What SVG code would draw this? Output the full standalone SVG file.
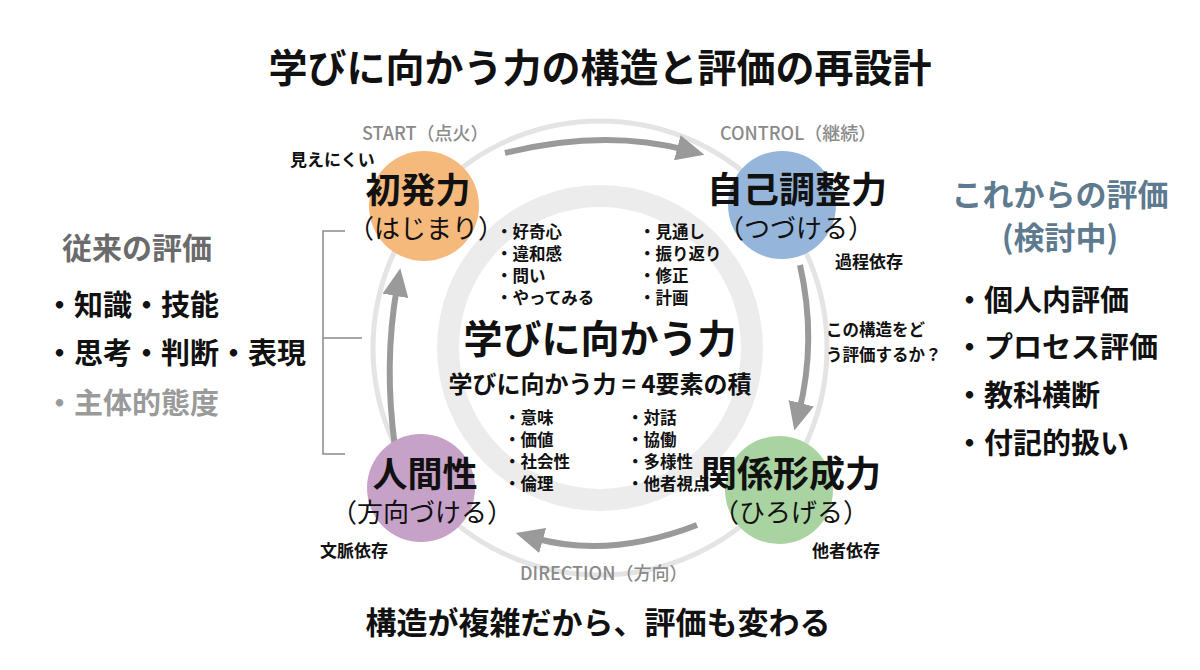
<svg xmlns="http://www.w3.org/2000/svg" width="1200" height="670" viewBox="0 0 1200 670">
<defs>
<style>
text{font-family:"Noto Sans CJK JP","Noto Sans CJK SC",sans-serif;fill:#111}
.title{font-size:39px;font-weight:700}
.big{font-size:35px;font-weight:700}
.big5{font-size:36px;font-weight:700}
.sub{font-size:26px;font-weight:400}
.sm{font-size:17px;font-weight:700}
.phase{font-size:18px;font-weight:500;fill:#8a8a8a}
.bul{font-size:16.5px;font-weight:700}
.side{font-size:29px;font-weight:700}
.arrow{fill:none;stroke:#9a9a9a;stroke-width:6;marker-end:url(#ah)}
</style>
<marker id="ah" markerUnits="userSpaceOnUse" markerWidth="28" markerHeight="26" refX="9" refY="13" orient="auto">
<path d="M0,0 L28,13 L0,26 z" fill="#9a9a9a"/>
</marker>
</defs>
<rect width="1200" height="670" fill="#ffffff"/>
<text class="title" x="600" y="82" text-anchor="middle">学びに向かう力の構造と評価の再設計</text>
<g id="rings">
<circle cx="600" cy="348" r="227" fill="none" stroke="#e4e4e4" stroke-width="5"/>
<circle cx="600" cy="348" r="152" fill="none" stroke="#ececec" stroke-width="22"/>
</g>
<g id="connectors">
<path class="arrow" d="M505,153 Q603.5,128.5 686,150"/>
<path class="arrow" d="M800,265 Q817,340.5 799,412"/>
<path class="arrow" d="M697,525 Q609.5,559 534,538"/>
<path class="arrow" d="M395,447 Q383.5,364 397,287"/>
</g>
<g id="node-shohatsu">
<circle cx="424" cy="206" r="55" fill="#f5b97c"/>
<text class="big" x="418" y="203" text-anchor="middle">初発力</text>
<text class="sub" x="426" y="238" text-anchor="middle">（はじまり）</text>
<text class="phase" x="362" y="140">START（点火）</text>
<text class="sm" x="290" y="166">見えにくい</text>
</g>
<g id="node-jiko">
<circle cx="782" cy="205" r="54" fill="#95b6da"/>
<text class="big5" x="797" y="203" text-anchor="middle">自己調整力</text>
<text class="sub" x="796" y="238" text-anchor="middle">（つづける）</text>
<text class="phase" x="720" y="140">CONTROL（継続）</text>
<text class="sm" x="835" y="268">過程依存</text>
</g>
<g id="node-ningen">
<circle cx="421" cy="488" r="54" fill="#c6a2c9"/>
<text class="big" x="425" y="487" text-anchor="middle">人間性</text>
<text class="sub" x="422" y="522" text-anchor="middle">（方向づける）</text>
<text class="sm" x="320" y="557">文脈依存</text>
</g>
<g id="node-kankei">
<circle cx="779" cy="490" r="54" fill="#a9d4a1"/>
<text class="big5" x="791" y="487" text-anchor="middle">関係形成力</text>
<text class="sub" x="791" y="522" text-anchor="middle">（ひろげる）</text>
<text class="sm" x="812" y="557">他者依存</text>
<text class="phase" x="520" y="580">DIRECTION（方向）</text>
</g>
<g id="center">
<text class="bul" x="496" y="238">・好奇心</text>
<text class="bul" x="496" y="260">・違和感</text>
<text class="bul" x="496" y="282">・問い</text>
<text class="bul" x="496" y="304">・やってみる</text>
<text class="bul" x="639" y="238">・見通し</text>
<text class="bul" x="639" y="260">・振り返り</text>
<text class="bul" x="639" y="282">・修正</text>
<text class="bul" x="639" y="304">・計画</text>
<text x="600" y="353" text-anchor="middle" style="font-size:39px;font-weight:700">学びに向かう力</text>
<text x="600" y="393" text-anchor="middle" style="font-size:24px;font-weight:700">学びに向かう力 = 4要素の積</text>
<text class="bul" x="504" y="424">・意味</text>
<text class="bul" x="504" y="446">・価値</text>
<text class="bul" x="504" y="468">・社会性</text>
<text class="bul" x="504" y="490">・倫理</text>
<text class="bul" x="627" y="424">・対話</text>
<text class="bul" x="627" y="446">・協働</text>
<text class="bul" x="627" y="468">・多様性</text>
<text class="bul" x="627" y="490">・他者視点</text>
</g>
<g id="question">
<text class="bul" x="826" y="336">この構造をど</text>
<text class="bul" x="826" y="361">う評価するか？</text>
</g>
<g id="left-panel">
<text x="62" y="259" style="font-size:30px;font-weight:700;fill:#6b6b6b">従来の評価</text>
<text class="side" x="45" y="316">・知識・技能</text>
<text class="side" x="45" y="364">・思考・判断・表現</text>
<text class="side" x="45" y="414" style="fill:#9a9a9a">・主体的態度</text>
<path d="M345,231 L323,231 L323,454 L345,454 M323,338 L362,338" fill="none" stroke="#8a8a8a" stroke-width="1.5"/>
</g>
<g id="right-panel">
<text x="1060" y="206" text-anchor="middle" style="font-size:31px;font-weight:700;fill:#5d7a8f">これからの評価</text>
<text x="1060" y="249" text-anchor="middle" style="font-size:31px;font-weight:700;fill:#5d7a8f">(検討中)</text>
<text class="side" x="955" y="311">・個人内評価</text>
<text class="side" x="955" y="358">・プロセス評価</text>
<text class="side" x="955" y="406">・教科横断</text>
<text class="side" x="955" y="454">・付記的扱い</text>
</g>
<text x="598" y="634" text-anchor="middle" style="font-size:31px;font-weight:700">構造が複雑だから、評価も変わる</text>
</svg>
